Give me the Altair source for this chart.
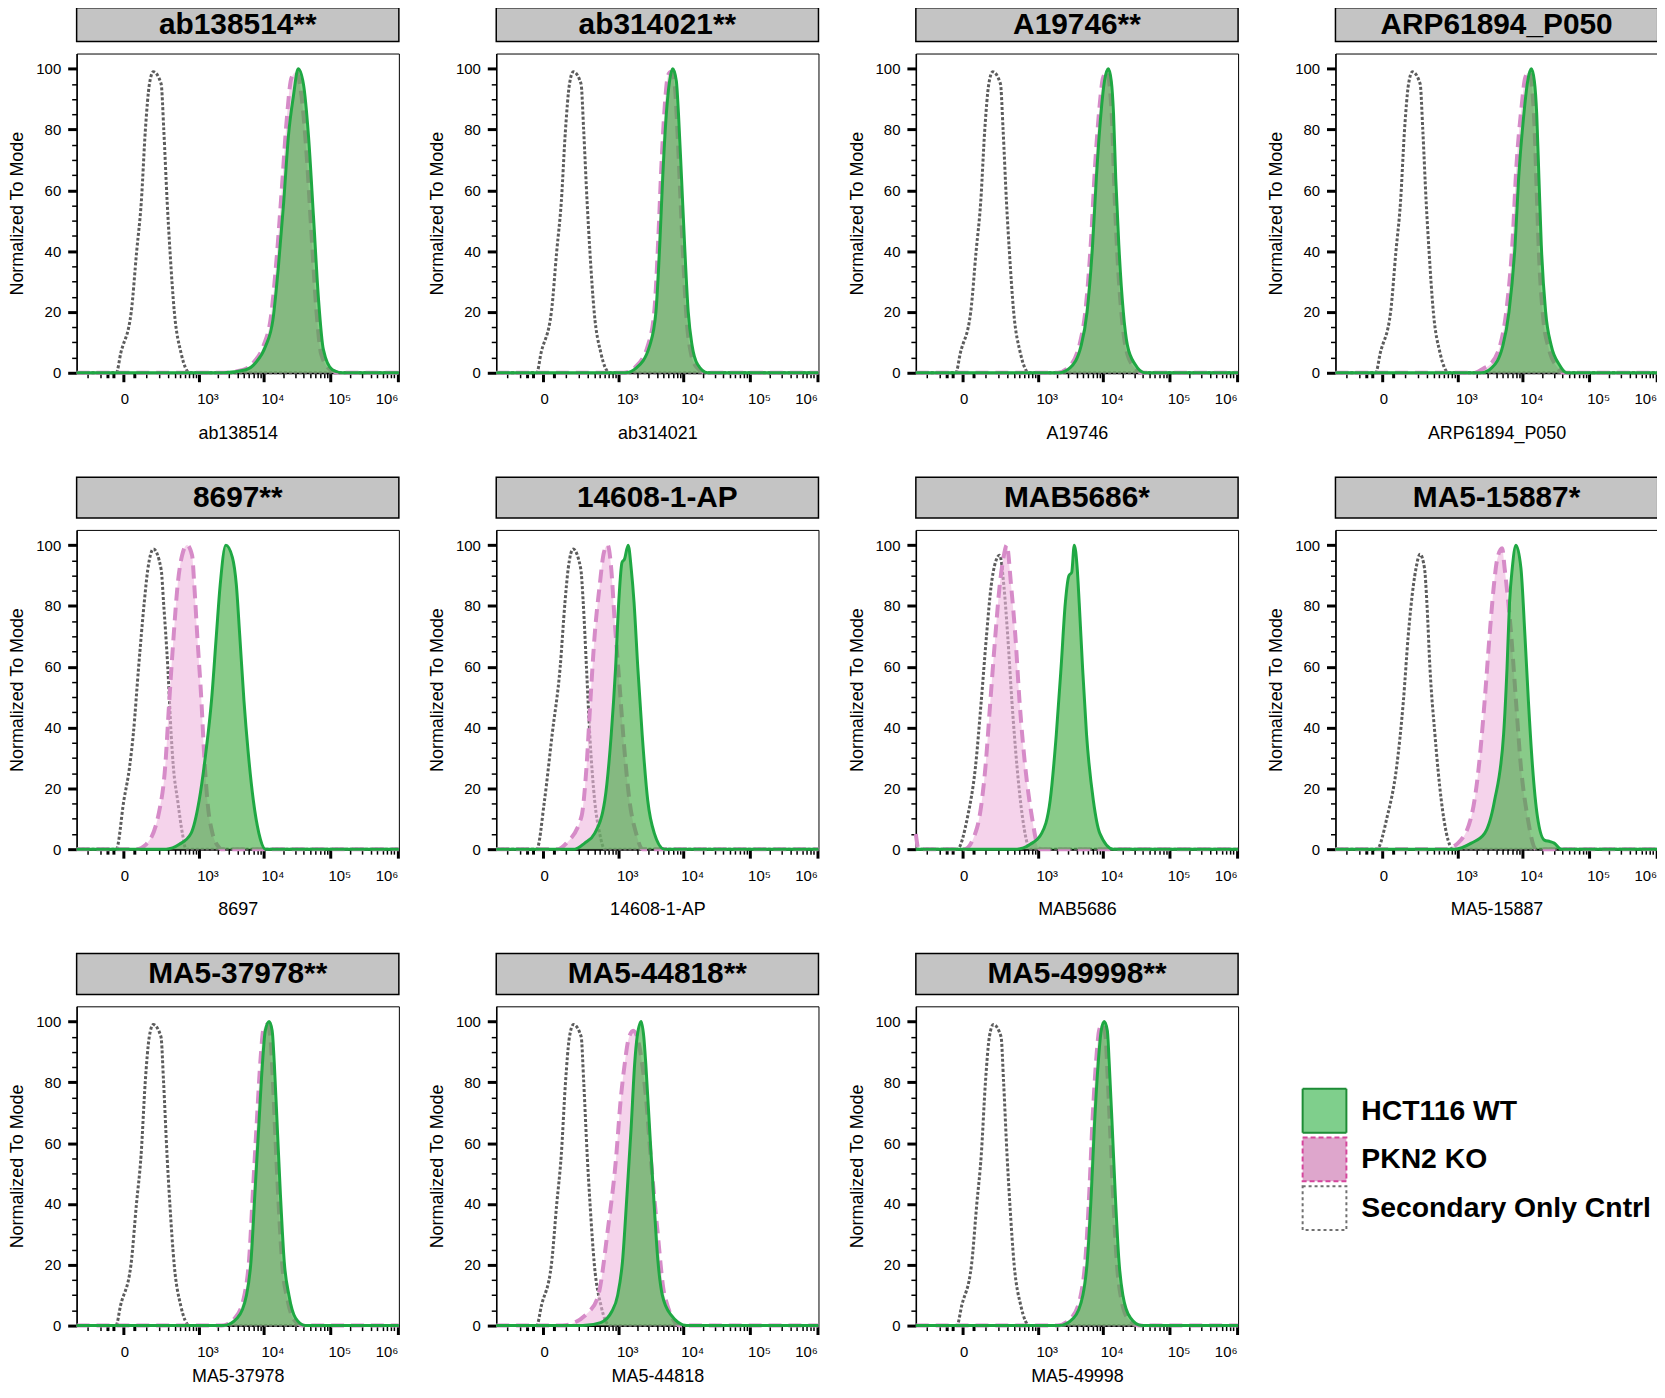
import altair as alt
import pandas as pd

FONT = "Liberation Sans"

# ---------------- panel titles / axis titles ----------------
PANEL_TITLES = ["ab138514**", "ab314021**", "A19746**", "ARP61894_P050",
                "8697**", "14608-1-AP", "MAB5686*", "MA5-15887*",
                "MA5-37978**", "MA5-44818**", "MA5-49998**"]
X_TITLES = ["ab138514", "ab314021", "A19746", "ARP61894_P050",
            "8697", "14608-1-AP", "MAB5686", "MA5-15887",
            "MA5-37978", "MA5-44818", "MA5-49998"]

LEGEND_LABELS = ["HCT116 WT", "PKN2 KO", "Secondary Only Cntrl"]

# x axis (biexponential-like) ticks
X_DOMAIN = [-328, 1050000]
X_LABEL_VALUES = [0, 1000, 10000, 100000, 1000000]
X_LABEL_TEXT = ["0", "10³", "10⁴", "10⁵", "10⁶"]
X_CLUSTER_TICKS = [-60, -35, 35]
X_MINOR_TICKS = [-200, -100, 100, 200, 300, 400, 500, 600, 700, 800, 900,
                 2000, 3000, 4000, 5000, 6000, 7000, 8000, 9000,
                 20000, 30000, 40000, 50000, 60000, 70000, 80000, 90000,
                 200000, 300000, 400000, 500000, 600000, 700000, 800000, 900000]
Y_TICKS = [0, 5, 10, 15, 20, 25, 30, 35, 40, 45, 50, 55, 60, 65, 70, 75, 80, 85, 90, 95, 100]
Y_DOMAIN = [0, 105]

# ---------------- histogram data (intensity, % of mode) ----------------
AB138514_SEC = [(-328, 0), (-23, 0), (-8, 6.5), (25, 20), (47, 40), (69, 56), (92, 80), (118, 95), (147, 99),
                (217, 95), (245, 80), (286, 56), (323, 40), (388, 20), (510, 6.5), (720, 0), (1050000, 0)]
AB138514_KO = [(-328, 0), (2300, 0), (5000, 1), (7100, 3.5), (10000, 9), (12900, 18.5), (15600, 37), (18700, 60),
               (22000, 82), (26200, 97), (31000, 99), (37000, 91), (44000, 72), (52000, 46), (62000, 20),
               (73000, 6), (100000, 1), (140000, 0), (1050000, 0)]
AB138514_WT = [(-328, 0), (2500, 0), (5400, 1), (7600, 3.3), (10700, 8.7), (13800, 17.4), (16700, 35), (20000, 56),
               (23600, 78), (28000, 91), (33000, 100), (39500, 95), (47000, 78), (56000, 51), (66500, 24),
               (78500, 7.6), (107000, 1), (150000, 0), (1050000, 0)]

AB314021_SEC = [(-328, 0), (-20, 0), (-6, 6.5), (27, 20), (49, 40), (71, 56), (95, 80), (121, 95), (150, 99),
                (220, 95), (248, 80), (290, 56), (327, 40), (392, 20), (515, 6.5), (725, 0), (1050000, 0)]
AB314021_KO = [(-328, 0), (1230, 0), (1850, 1.8), (2970, 9.5), (3680, 21), (4200, 44), (4660, 67), (5280, 88),
               (5930, 98), (6600, 99), (7490, 94), (8080, 82), (8970, 60), (9980, 38), (11300, 17), (12900, 7),
               (15700, 2), (22100, 0), (1050000, 0)]
AB314021_WT = [(-328, 0), (1290, 0), (1940, 1.6), (3120, 9), (3870, 20), (4420, 42), (4900, 64), (5560, 85),
               (6240, 96), (6950, 100), (7880, 96), (8500, 85), (9440, 64), (10500, 42), (11900, 20), (13600, 9),
               (16500, 2.7), (23300, 0), (1050000, 0)]

A19746_SEC = [(-328, 0), (-22, 0), (-7, 6.5), (26, 20), (48, 40), (70, 56), (93, 80), (119, 95), (148, 99),
              (218, 95), (246, 80), (287, 56), (325, 40), (390, 20), (512, 6.5), (720, 0), (1050000, 0)]
A19746_KO = [(-328, 0), (2050, 0), (3020, 1.8), (4480, 9.5), (5500, 21), (6660, 44), (7590, 67), (8880, 87),
             (10070, 97), (11500, 99), (12700, 94), (13800, 82), (14860, 61), (16500, 39), (19300, 18), (22200, 8),
             (29100, 2), (40700, 0), (1050000, 0)]
A19746_WT = [(-328, 0), (2160, 0), (3180, 1.6), (4720, 9), (5790, 20), (7010, 42), (7990, 64), (9350, 85),
             (10600, 96), (12100, 100), (13400, 96), (14500, 85), (15640, 64), (17400, 42), (20300, 20), (23400, 9),
             (30600, 2.7), (42800, 0), (1050000, 0)]

ARP61894_SEC = [(-328, 0), (-21, 0), (-6, 6.5), (27, 20), (49, 40), (71, 56), (94, 80), (120, 95), (149, 99),
                (219, 95), (247, 80), (288, 56), (326, 40), (391, 20), (514, 6.5), (722, 0), (1050000, 0)]
ARP61894_KO = [(-328, 0), (1900, 0), (2600, 1.5), (3150, 2.5), (4670, 9.5), (5770, 21), (7130, 44), (8070, 67),
               (9660, 87), (11000, 97), (12500, 99), (13900, 94), (15100, 82), (16300, 61), (17700, 39), (20500, 18),
               (24800, 8), (32800, 2), (42300, 0), (1050000, 0)]
ARP61894_WT = [(-328, 0), (2380, 0), (3420, 1.6), (5080, 9), (6270, 20), (7750, 42), (8770, 64), (10500, 85),
               (12000, 96), (13600, 100), (15100, 96), (16400, 85), (17700, 64), (19200, 42), (22300, 20),
               (27000, 9), (35600, 2.7), (46000, 0), (1050000, 0)]

N8697_SEC = [(-328, 0), (-23, 0), (1, 16), (19, 27), (33, 38), (56, 60), (85, 81), (107, 92), (148, 98.7),
             (217, 92), (243, 81), (293, 60), (339, 38), (373, 27), (445, 16), (540, 5), (621, 0), (1050000, 0)]
N8697_KO = [(-328, 0), (45, 0), (97, 1.6), (193, 11.7), (261, 27), (313, 48.7), (378, 70.4), (445, 87), (530, 96.5),
            (645, 100), (785, 96.5), (850, 87), (950, 70.4), (1110, 48.7), (1220, 32), (1380, 16), (1660, 5.2),
            (2120, 0.5), (2240, 0), (1050000, 0)]
N8697_WT = [(-328, 0), (273, 0), (477, 1.6), (752, 5.2), (1020, 16), (1309, 32), (1600, 48.7), (1910, 70.4),
            (2190, 87), (2672, 100), (3370, 96), (3870, 87), (4360, 70.4), (5060, 48.7), (5850, 32), (7010, 16),
            (8500, 5.2), (10700, 0), (1050000, 0)]

N14608_SEC = [(-328, 0), (-20, 0), (4, 16), (30, 37.8), (65, 59.6), (92, 81.3), (112, 92.2), (148, 98.7),
              (217, 92.2), (243, 81.3), (282, 59.6), (325, 37.8), (400, 16), (490, 5.2), (600, 0), (1050000, 0)]
N14608_KO = [(-328, 0), (55, 0), (101, 2), (224, 10.7), (282, 27), (334, 48.7), (400, 70.4), (490, 86.7),
             (580, 97.6), (670, 100), (770, 92.2), (870, 75.9), (1050, 54), (1260, 32.4), (1510, 16), (1920, 5.2),
             (2400, 0), (1050000, 0)]
N14608_WT = [(-328, 0), (162, 0), (260, 2), (400, 5.2), (600, 16), (770, 37.8), (906, 59.6), (1020, 81.3),
             (1150, 94.3), (1260, 95.4), (1440, 100), (1610, 92.2), (1780, 81.3), (2040, 59.6), (2380, 37.8),
             (2900, 16), (3660, 5.2), (5200, 0), (1050000, 0)]

MAB5686_SEC = [(-328, 0), (-17, 0), (15, 10.7), (45, 27), (73, 48.7), (104, 70.4), (136, 86.7), (170, 94.3),
               (210, 96.7), (255, 86.7), (302, 70.4), (362, 48.7), (448, 27), (555, 10.7), (752, 0), (1050000, 0)]
MAB5686_KO = [(-328, 5), (-290, 0), (5, 0), (52, 7), (97, 27), (130, 48.7), (170, 70.4), (210, 86.7), (248, 95.4),
              (290, 100), (350, 86.7), (417, 70.4), (495, 48.7), (621, 27), (800, 10.7), (1020, 0.5), (1100, 0),
              (1050000, 0)]
MAB5686_WT = [(-328, 0), (448, 0), (752, 1.6), (1150, 5.2), (1570, 16), (1960, 37.8), (2320, 59.6), (2700, 81),
              (3070, 90), (3380, 91), (3700, 100), (4100, 92.4), (4400, 81), (4950, 59.6), (5680, 37.8),
              (7200, 16), (9020, 5.2), (14400, 0), (1050000, 0)]

MA5_15887_SEC = [(-328, 0), (-17, 0), (15, 10.7), (52, 27), (87, 48.7), (118, 70.4), (156, 86.7), (179, 92.4),
                 (217, 97), (267, 92.4), (297, 81), (339, 59.6), (417, 37.8), (540, 16), (660, 5.2), (850, 0),
                 (1050000, 0)]
MA5_15887_KO = [(-328, 0), (621, 0), (1020, 2), (1660, 10.7), (2170, 27), (2672, 48.7), (3184, 70.4), (3700, 86.7),
                (4160, 95.4), (4950, 99), (5390, 92.4), (6780, 70.4), (8000, 48.7), (9500, 27), (11900, 10.7),
                (16000, 0), (1050000, 0)]
MA5_15887_WT = [(-328, 0), (906, 0), (1660, 2), (2672, 5.2), (3790, 16), (5200, 37.8), (5860, 59.6), (6390, 81),
                (7030, 92.4), (8000, 100), (9500, 92.4), (10900, 70.4), (12300, 48.7), (14200, 27), (16800, 10.7),
                (21300, 3), (26000, 2.5), (30000, 2), (38000, 0), (1050000, 0)]

MA5_37978_SEC = [(-328, 0), (-24, 0), (-9, 6.5), (24, 20), (46, 40), (68, 56), (91, 80), (117, 95), (146, 99),
                 (215, 95), (243, 80), (284, 56), (321, 40), (386, 20), (505, 6.5), (715, 0), (1050000, 0)]
MA5_37978_KO = [(-328, 0), (2300, 0), (3770, 2.7), (5190, 10.5), (6060, 22), (6940, 45), (7900, 67), (9020, 88),
                (9960, 97.5), (11400, 99), (12600, 95), (13600, 83), (15100, 61), (16800, 40), (19200, 19),
                (22600, 9), (28300, 2), (39700, 0), (1050000, 0)]
MA5_37978_WT = [(-328, 0), (2450, 0), (4010, 2.5), (5520, 10), (6450, 21), (7380, 43), (8410, 64.6), (9600, 86),
                (10600, 97), (12100, 100), (13450, 97), (14500, 86), (16100, 64.6), (17900, 43), (20400, 21),
                (24000, 10), (30100, 2.5), (42250, 0), (1050000, 0)]

MA5_44818_SEC = [(-328, 0), (-20, 0), (-5, 6.5), (27, 20), (49, 40), (71, 56), (95, 80), (121, 95), (151, 99),
                 (221, 95), (249, 80), (291, 56), (329, 40), (395, 20), (518, 6.5), (730, 0), (1050000, 0)]
MA5_44818_KO = [(-328, 0), (77, 0), (320, 4.7), (465, 10), (680, 32), (910, 53.7), (1110, 75.5), (1270, 86),
                (1450, 94), (1730, 97), (2100, 93), (2710, 75.5), (3270, 53.7), (4050, 32), (5230, 10), (8930, 0),
                (1050000, 0)]
MA5_44818_WT = [(-328, 0), (240, 0), (510, 1), (790, 4.7), (980, 10), (1170, 21), (1380, 43), (1600, 64.6),
                (1820, 86), (1990, 95), (2300, 100), (2520, 95), (2710, 86), (3100, 64.6), (3560, 43), (4160, 21),
                (4840, 10), (6500, 3.6), (11300, 0), (1050000, 0)]

MA5_49998_SEC = [(-328, 0), (-18, 0), (-3, 6.5), (29, 20), (51, 40), (73, 56), (97, 80), (123, 95), (153, 99),
                 (224, 95), (252, 80), (294, 56), (332, 40), (398, 20), (522, 6.5), (735, 0), (1050000, 0)]
MA5_49998_KO = [(-328, 0), (2030, 0), (3400, 2.7), (4700, 10.5), (5470, 22), (6290, 45), (6980, 67), (7990, 88),
                (8880, 97.5), (9870, 99), (11000, 95), (11750, 83), (13070, 61), (14480, 40), (16450, 19),
                (18800, 9), (24400, 2), (35700, 0), (1050000, 0)]
MA5_49998_WT = [(-328, 0), (2160, 0), (3620, 2.5), (5000, 10), (5820, 21), (6690, 43), (7430, 64.6), (8500, 86),
                (9450, 97), (10500, 100), (11700, 97), (12500, 86), (13900, 64.6), (15400, 43), (17500, 21),
                (20000, 10), (26000, 2.5), (38000, 0), (1050000, 0)]

PANEL_DATA = [
    (AB138514_SEC, AB138514_KO, AB138514_WT),
    (AB314021_SEC, AB314021_KO, AB314021_WT),
    (A19746_SEC, A19746_KO, A19746_WT),
    (ARP61894_SEC, ARP61894_KO, ARP61894_WT),
    (N8697_SEC, N8697_KO, N8697_WT),
    (N14608_SEC, N14608_KO, N14608_WT),
    (MAB5686_SEC, MAB5686_KO, MAB5686_WT),
    (MA5_15887_SEC, MA5_15887_KO, MA5_15887_WT),
    (MA5_37978_SEC, MA5_37978_KO, MA5_37978_WT),
    (MA5_44818_SEC, MA5_44818_KO, MA5_44818_WT),
    (MA5_49998_SEC, MA5_49998_KO, MA5_49998_WT),
]

# ---------------- styling ----------------
W, H = 324, 321
HEADER_H = 41
HEADER_H_TOP = 34

label_expr = "".join(
    f"datum.value == {v} ? '{t}' : " for v, t in zip(X_LABEL_VALUES, X_LABEL_TEXT)) + "''"
major_list = "[" + ",".join(str(v) for v in X_LABEL_VALUES) + "]"
thick_list = "[" + ",".join(str(v) for v in X_LABEL_VALUES + X_CLUSTER_TICKS) + "]"

X_SCALE = alt.Scale(type="symlog", constant=82, domain=X_DOMAIN, nice=False, zero=False)
Y_SCALE = alt.Scale(domain=Y_DOMAIN, nice=False, zero=False)


def x_axis(title, title_pad):
    return alt.Axis(
        title=title,
        values=sorted(X_LABEL_VALUES + X_CLUSTER_TICKS + X_MINOR_TICKS),
        labelExpr=label_expr,
        labelOverlap=False,
        labelFontSize=15,
        labelPadding=10,
        labelOffset={"condition": [{"test": "datum.value >= 1000000", "value": -11},
                                   {"test": "datum.value >= 1000", "value": 9}],
                     "value": 1},
        tickSize={"condition": {"test": f"indexof({major_list}, datum.value) >= 0", "value": 9}, "value": 5},
        tickWidth={"condition": {"test": f"indexof({thick_list}, datum.value) >= 0", "value": 3}, "value": 1.5},
        domainWidth=2,
        titleFontSize=18,
        titleFontWeight="normal",
        titlePadding=title_pad,
        grid=False,
    )


Y_AXIS = alt.Axis(
    title="Normalized To Mode",
    values=Y_TICKS,
    labelExpr="datum.value % 20 == 0 ? datum.label : ''",
    labelOverlap=False,
    labelFontSize=15,
    labelPadding=7,
    tickSize={"condition": {"test": "datum.value % 20 == 0", "value": 9}, "value": 5},
    tickWidth={"condition": {"test": "datum.value % 20 == 0", "value": 3}, "value": 1.5},
    domainWidth=1.5,
    titleFontSize=18,
    titleFontWeight="normal",
    titlePadding=9,
    grid=False,
)


def make_df(sec, ko, wt):
    rows = []
    for s, pts in (("sec", sec), ("ko", ko), ("wt", wt)):
        for i, (x, y) in enumerate(pts):
            rows.append({"series": s, "i": i, "x": x, "y": y})
    return pd.DataFrame(rows)


def plot_panel(xtitle, df, title_pad):
    base = alt.Chart(df).encode(
        x=alt.X("x:Q", scale=X_SCALE, axis=x_axis(xtitle, title_pad)),
        y=alt.Y("y:Q", scale=Y_SCALE, axis=Y_AXIS, stack=None),
    )
    sec = base.transform_filter(alt.datum.series == "sec").mark_line(
        color="#5c5c5c", strokeWidth=3, strokeDash=[3, 2], interpolate="monotone"
    ).encode(order="i:Q")
    ko_a = base.transform_filter(alt.datum.series == "ko").mark_area(
        color="#eeb5de", opacity=0.6, interpolate="monotone")
    ko_l = base.transform_filter(alt.datum.series == "ko").mark_line(
        color="#d68bc8", strokeWidth=4, strokeDash=[13, 7], interpolate="monotone"
    ).encode(order="i:Q")
    wt_a = base.transform_filter(alt.datum.series == "wt").mark_area(
        color="#3aa83a", opacity=0.6, interpolate="monotone")
    wt_l = base.transform_filter(alt.datum.series == "wt").mark_line(
        color="#1fa843", strokeWidth=3, interpolate="monotone"
    ).encode(order="i:Q")
    return alt.layer(sec, ko_a, ko_l, wt_a, wt_l).properties(
        width=W, height=H,
        view=alt.ViewBackground(stroke="black", strokeWidth=1),
    )


def header(title, h):
    return alt.Chart(pd.DataFrame({"t": [title]})).mark_text(
        font=FONT, fontSize=30, fontWeight="bold", color="black", align="center", baseline="middle"
    ).encode(text="t:N").properties(
        width=W, height=h,
        view=alt.ViewBackground(fill="#c4c4c4", stroke="black", strokeWidth=1.5),
    )


def panel(idx, header_h=HEADER_H, title_pad=18):
    sec, ko, wt = PANEL_DATA[idx]
    return alt.vconcat(header(PANEL_TITLES[idx], header_h),
                       plot_panel(X_TITLES[idx], make_df(sec, ko, wt), title_pad),
                       spacing=10)


# legend cell
leg_df = pd.DataFrame({"series": LEGEND_LABELS})
leg_y = alt.Y("series:N", scale=alt.Scale(type="point", domain=LEGEND_LABELS, range=[158, 256], padding=0),
              axis=None)
leg_sq = alt.Chart(leg_df).mark_square(size=1936, strokeWidth=2, filled=True, opacity=1).encode(
    x=alt.value(58),
    y=leg_y,
    fill=alt.Fill("series:N", scale=alt.Scale(domain=LEGEND_LABELS, range=["#7fcf8c", "#dea6cc", "#ffffff"]),
                  legend=None),
    stroke=alt.Stroke("series:N", scale=alt.Scale(domain=LEGEND_LABELS, range=["#1e8c36", "#d5469c", "#707070"]),
                      legend=None),
    strokeDash=alt.StrokeDash("series:N", scale=alt.Scale(domain=LEGEND_LABELS,
                                                          range=[[1, 0], [5, 3], [3, 3]]), legend=None),
)
leg_txt = alt.Chart(leg_df).mark_text(
    font=FONT, fontSize=28.5, fontWeight="bold", color="black", align="left", baseline="middle"
).encode(x=alt.value(95), y=leg_y, text="series:N")
legend_cell = alt.layer(leg_sq, leg_txt).properties(
    width=W, height=HEADER_H + 10 + H,
    view=alt.ViewBackground(strokeOpacity=0, fillOpacity=0),
)

COL_SPACING = 19.9
row1 = alt.hconcat(*[panel(i, HEADER_H_TOP) for i in range(0, 4)], spacing=COL_SPACING)
row2 = alt.hconcat(*[panel(i) for i in range(4, 8)], spacing=COL_SPACING)
row3 = alt.hconcat(*[panel(i, HEADER_H, 8) for i in range(8, 11)], legend_cell, spacing=COL_SPACING)

chart = alt.vconcat(row1, row2, row3, spacing=33).properties(
    padding={"left": 0, "top": -5, "right": -10, "bottom": -1}
).configure(font=FONT).configure_axis(
    labelFont=FONT, titleFont=FONT, labelColor="black", titleColor="black",
    tickColor="black", domainColor="black",
).configure_view(stroke="black", strokeWidth=1)

chart.save("out.html", embed_options={"renderer": "svg", "actions": False})
